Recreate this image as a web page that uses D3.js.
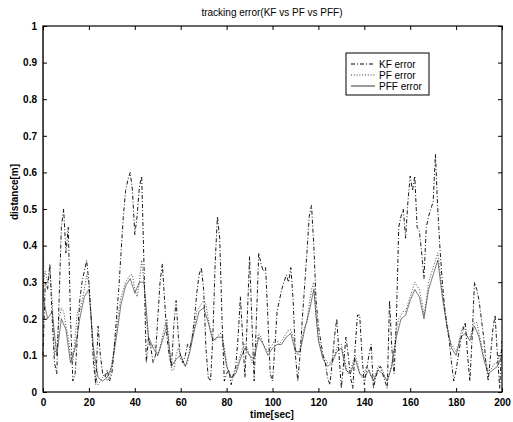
<!DOCTYPE html>
<html>
<head>
<meta charset="utf-8">
<script src="https://cdn.jsdelivr.net/npm/d3@7"></script>
<style>
  body { margin: 0; background: #fff; }
  svg { display: block; font-family: "Liberation Sans", Arial, sans-serif; }
  .tick text { font-size: 10px; font-weight: bold; fill: #000; }
</style>
</head>
<body>
<svg id="chart"></svg>
<script>
// time axis for KF and PF (1 s steps), PFF sampled coarser
const kfTime = d3.range(0, 201);
const pfTime = d3.range(0, 201);
const pffTime = [0, 0.3].concat(d3.range(2, 201, 2));

const kfError = [
  0.10, 0.30, 0.28, 0.35, 0.20, 0.08, 0.05, 0.25, 0.45, 0.50,
  0.38, 0.45, 0.20, 0.03, 0.05, 0.15, 0.25, 0.30, 0.33, 0.36,
  0.30, 0.20, 0.08, 0.02, 0.18, 0.10, 0.05, 0.04, 0.06, 0.03,
  0.05, 0.12, 0.20, 0.28, 0.38, 0.48, 0.55, 0.58, 0.60, 0.55,
  0.43, 0.48, 0.56, 0.59, 0.35, 0.08, 0.15, 0.12, 0.08, 0.10,
  0.20, 0.30, 0.35, 0.25, 0.15, 0.10, 0.07, 0.18, 0.25, 0.15,
  0.09, 0.08, 0.10, 0.13, 0.12, 0.15, 0.20, 0.27, 0.32, 0.34,
  0.28, 0.12, 0.04, 0.03, 0.15, 0.35, 0.48, 0.42, 0.20, 0.03,
  0.05, 0.06, 0.02, 0.05, 0.07, 0.15, 0.26, 0.15, 0.04, 0.20,
  0.37, 0.20, 0.03, 0.20, 0.38, 0.35, 0.33, 0.34, 0.20, 0.05,
  0.03, 0.12, 0.22, 0.25, 0.28, 0.30, 0.32, 0.30, 0.34, 0.25,
  0.10, 0.03, 0.10, 0.20, 0.29, 0.38, 0.48, 0.51, 0.40, 0.25,
  0.18, 0.14, 0.10, 0.08, 0.04, 0.02, 0.08, 0.15, 0.20, 0.10,
  0.01, 0.08, 0.15, 0.10, 0.04, 0.01, 0.12, 0.21, 0.21, 0.10,
  0.02, 0.06, 0.10, 0.13, 0.01, 0.04, 0.06, 0.07, 0.05, 0.03,
  0.01, 0.25, 0.12, 0.05, 0.20, 0.45, 0.48, 0.50, 0.42, 0.52,
  0.59, 0.55, 0.59, 0.45, 0.44, 0.38, 0.31, 0.45, 0.48, 0.50,
  0.52, 0.65, 0.50, 0.39, 0.30, 0.23, 0.18, 0.14, 0.08, 0.03,
  0.06, 0.10, 0.14, 0.17, 0.19, 0.10, 0.03, 0.15, 0.30, 0.28,
  0.25, 0.20, 0.15, 0.08, 0.03, 0.10, 0.17, 0.21, 0.10, 0.01,
  0.14
];

const pfError = [
  0.30, 0.33, 0.30, 0.34, 0.25, 0.10, 0.12, 0.20, 0.23, 0.22,
  0.18, 0.15, 0.10, 0.08, 0.15, 0.22, 0.22, 0.25, 0.28, 0.32,
  0.30, 0.20, 0.10, 0.04, 0.02, 0.03, 0.04, 0.05, 0.03, 0.04,
  0.08, 0.12, 0.17, 0.22, 0.26, 0.28, 0.30, 0.31, 0.32, 0.32,
  0.28, 0.26, 0.30, 0.36, 0.30, 0.20, 0.14, 0.12, 0.13, 0.12,
  0.10, 0.12, 0.15, 0.18, 0.20, 0.12, 0.06, 0.06, 0.10, 0.12,
  0.10, 0.08, 0.07, 0.08, 0.12, 0.15, 0.18, 0.22, 0.23, 0.24,
  0.25, 0.24, 0.20, 0.17, 0.15, 0.14, 0.15, 0.16, 0.16, 0.12,
  0.08, 0.05, 0.04, 0.04, 0.06, 0.08, 0.10, 0.12, 0.13, 0.12,
  0.10, 0.08, 0.10, 0.13, 0.16, 0.15, 0.13, 0.12, 0.11, 0.12,
  0.13, 0.14, 0.14, 0.13, 0.14, 0.15, 0.16, 0.17, 0.17, 0.15,
  0.12, 0.10, 0.12, 0.15, 0.18, 0.19, 0.24, 0.28, 0.30, 0.20,
  0.15, 0.12, 0.10, 0.09, 0.08, 0.08, 0.09, 0.10, 0.12, 0.13,
  0.13, 0.10, 0.07, 0.05, 0.06, 0.08, 0.10, 0.08, 0.05, 0.04,
  0.05, 0.07, 0.06, 0.04, 0.03, 0.05, 0.07, 0.07, 0.06, 0.04,
  0.03, 0.05, 0.08, 0.12, 0.17, 0.20, 0.21, 0.22, 0.22, 0.24,
  0.26, 0.28, 0.30, 0.29, 0.28, 0.25, 0.21, 0.25, 0.30, 0.32,
  0.34, 0.36, 0.38, 0.33, 0.27, 0.23, 0.19, 0.15, 0.13, 0.12,
  0.11, 0.13, 0.16, 0.18, 0.17, 0.15, 0.15, 0.17, 0.19, 0.19,
  0.16, 0.13, 0.10, 0.08, 0.06, 0.06, 0.07, 0.08, 0.08, 0.10,
  0.12
];

const pffError = [
  1.00, 0.25,
  0.20, 0.22, 0.10, 0.20, 0.17, 0.08, 0.12, 0.20, 0.26, 0.28,
  0.12, 0.04, 0.03, 0.04, 0.07, 0.15, 0.24, 0.29, 0.31, 0.27,
  0.30, 0.30, 0.15, 0.12, 0.10, 0.14, 0.18, 0.07, 0.09, 0.10,
  0.07, 0.11, 0.17, 0.22, 0.23, 0.19, 0.14, 0.15, 0.15, 0.07,
  0.04, 0.05, 0.09, 0.12, 0.10, 0.09, 0.15, 0.13, 0.10, 0.12,
  0.13, 0.13, 0.15, 0.16, 0.11, 0.11, 0.17, 0.22, 0.28, 0.14,
  0.09, 0.07, 0.08, 0.11, 0.12, 0.06, 0.05, 0.09, 0.05, 0.04,
  0.06, 0.03, 0.06, 0.05, 0.03, 0.07, 0.15, 0.20, 0.21, 0.25,
  0.28, 0.26, 0.20, 0.28, 0.32, 0.36, 0.26, 0.18, 0.12, 0.10,
  0.15, 0.16, 0.14, 0.18, 0.15, 0.09, 0.05, 0.06, 0.07, 0.10
];

const xTicks = d3.range(0, 201, 20);
const yTicks = [0, 0.1, 0.2, 0.3, 0.4, 0.5, 0.6, 0.7, 0.8, 0.9, 1];
const seriesNames = ["KF error", "PF error", "PFF error"];

const width = 513, height = 422;
const margin = { top: 26, right: 11, bottom: 30, left: 43 };
const iw = width - margin.left - margin.right;
const ih = height - margin.top - margin.bottom;

const svg = d3.select("#chart").attr("width", width).attr("height", height);
const g = svg.append("g").attr("transform", `translate(${margin.left},${margin.top})`);

const x = d3.scaleLinear().domain([0, 200]).range([0, iw]);
const y = d3.scaleLinear().domain([0, 1]).range([ih, 0]);

// clip so lines stay inside the box
g.append("clipPath").attr("id", "clip")
  .append("rect").attr("x", -1).attr("width", iw + 1).attr("height", ih);

const styles = [
  { dash: "4,2,1,2", width: 0.9, color: "#000" },
  { dash: "1,1.8", width: 0.9, color: "#333" },
  { dash: null, width: 0.6, color: "#222" }
];

const series = [
  { t: kfTime, v: kfError },
  { t: pfTime, v: pfError },
  { t: pffTime, v: pffError }
];

const line = d3.line().x(d => x(d[0])).y(d => y(d[1]));

const plot = g.append("g").attr("clip-path", "url(#clip)");
series.forEach((s, i) => {
  const pts = s.t.map((t, j) => [t, s.v[j]]);
  plot.append("path")
    .datum(pts)
    .attr("d", line)
    .attr("fill", "none")
    .attr("stroke", styles[i].color)
    .attr("stroke-width", styles[i].width)
    .attr("stroke-dasharray", styles[i].dash);
});

// axes, MATLAB style with inward ticks on all sides
g.append("g").attr("transform", `translate(0,${ih})`)
  .call(d3.axisBottom(x).tickValues(xTicks).tickSize(-4).tickPadding(7).tickFormat(d3.format("d")))
  .call(a => a.select(".domain").remove());
g.append("g")
  .call(d3.axisTop(x).tickValues(xTicks).tickSize(-4).tickFormat(""))
  .call(a => a.select(".domain").remove());
g.append("g")
  .call(d3.axisLeft(y).tickValues(yTicks).tickSize(-4).tickPadding(6).tickFormat(d => d === 0 || d === 1 ? d3.format("d")(d) : d3.format(".1f")(d)))
  .call(a => a.select(".domain").remove());
g.append("g").attr("transform", `translate(${iw},0)`)
  .call(d3.axisRight(y).tickValues(yTicks).tickSize(-4).tickFormat(""))
  .call(a => a.select(".domain").remove());

g.selectAll(".tick line").attr("stroke", "#000");

g.append("rect")
  .attr("width", iw).attr("height", ih)
  .attr("fill", "none").attr("stroke", "#000").attr("stroke-width", 1.2);

// labels
svg.append("text")
  .attr("x", 272).attr("y", 16)
  .attr("text-anchor", "middle")
  .style("font-size", "10px")
  .text("tracking error(KF vs PF vs PFF)");

svg.append("text")
  .attr("x", 272).attr("y", 418)
  .attr("text-anchor", "middle")
  .style("font-size", "10px").style("font-weight", "bold")
  .text("time[sec]");

svg.append("text")
  .attr("transform", "translate(18,192) rotate(-90)")
  .attr("text-anchor", "middle")
  .style("font-size", "10px").style("font-weight", "bold")
  .text("distance[m]");

// legend
const lg = svg.append("g").attr("transform", "translate(346,53)");
lg.append("rect")
  .attr("width", 83).attr("height", 42)
  .attr("fill", "#fff").attr("stroke", "#000").attr("stroke-width", 1);

seriesNames.forEach((name, i) => {
  const yy = 11 + i * 11;
  lg.append("line")
    .attr("x1", 5).attr("x2", 29).attr("y1", yy).attr("y2", yy)
    .attr("stroke", styles[i].color)
    .attr("stroke-width", styles[i].width + 0.3)
    .attr("stroke-dasharray", styles[i].dash);
  lg.append("text")
    .attr("x", 33).attr("y", yy + 3.5)
    .style("font-size", "10px")
    .text(name);
});
</script>
</body>
</html>
